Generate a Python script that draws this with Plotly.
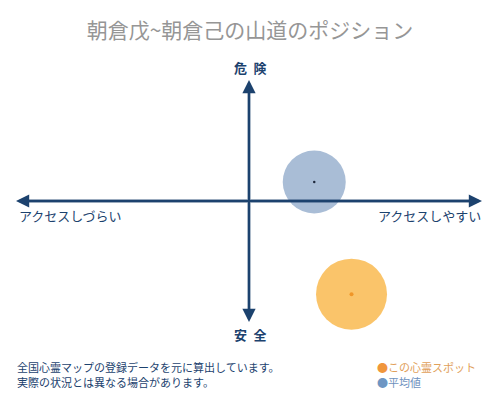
import plotly.graph_objects as go

# Data
series_names = ["この心霊スポット", "平均値"]
access_values = [0.44, 0.28]      # x: アクセスしづらい(-1) .. アクセスしやすい(+1)
danger_values = [-0.77, 0.157]    # y: 安全(-1) .. 危険(+1)
title_text = "朝倉戊~朝倉己の山道のポジション"
axis_labels = {"top": "危\u2002険", "bottom": "安\u2002全", "left": "アクセスしづらい", "right": "アクセスしやすい"}
footer_lines = ["全国心霊マップの登録データを元に算出しています。", "実際の状況とは異なる場合があります。"]

FONT = "Noto Sans CJK JP"
NAVY = "rgb(28,66,110)"
fill_colors = ["rgba(250,190,90,0.9)", "rgba(160,182,210,0.9)"]
dot_colors = ["rgb(240,150,40)", "rgb(30,40,60)"]
big_sizes = [71, 63]
dot_sizes = [4, 2.5]

fig = go.Figure()
for i in range(2):
    fig.add_trace(go.Scatter(
        x=[access_values[i]], y=[danger_values[i]], mode="markers", cliponaxis=False,
        marker=dict(size=big_sizes[i], color=fill_colors[i], line=dict(width=0)),
        name=series_names[i], showlegend=False, hoverinfo="skip"))
    fig.add_trace(go.Scatter(
        x=[access_values[i]], y=[danger_values[i]], mode="markers", cliponaxis=False,
        marker=dict(size=dot_sizes[i], color=dot_colors[i], line=dict(width=0)),
        showlegend=False, hoverinfo="skip"))

# axis lines through the origin
fig.add_shape(type="line", x0=-0.98, x1=0.98, y0=0, y1=0, xref="x", yref="y",
              line=dict(color=NAVY, width=2.4), layer="above")
fig.add_shape(type="line", x0=0, x1=0, y0=-0.97, y1=0.97, xref="x", yref="y",
              line=dict(color=NAVY, width=2.4), layer="above")

# arrows (from origin out to each end)
for (tx, ty) in [(1, 0), (-1, 0), (0, 1), (0, -1)]:
    fig.add_annotation(x=tx, y=ty, ax=0, ay=0, xref="x", yref="y", axref="x", ayref="y",
                       text="", showarrow=True, arrowhead=2, arrowsize=1.1,
                       arrowwidth=2.4, arrowcolor=NAVY, standoff=0, startstandoff=0)

pl, pr, pt, pb = 16, 18, 80, 78
pw, ph = 500 - pl - pr, 400 - pt - pb


def px(x):
    return (x - pl) / pw


def py(y):
    return (400 - y - pb) / ph


lab_font = dict(family=FONT, size=13, color=NAVY)
fig.add_annotation(x=px(250), y=py(68), xref="paper", yref="paper", text="<b>" + axis_labels["top"] + "</b>",
                   showarrow=False, xanchor="center", yanchor="middle",
                   font=dict(family=FONT, size=13, color=NAVY))
fig.add_annotation(x=px(250), y=py(334), xref="paper", yref="paper", text="<b>" + axis_labels["bottom"] + "</b>",
                   showarrow=False, xanchor="center", yanchor="middle",
                   font=dict(family=FONT, size=13, color=NAVY))
fig.add_annotation(x=px(17), y=py(215), xref="paper", yref="paper", text=axis_labels["left"],
                   showarrow=False, xanchor="left", yanchor="middle", font=lab_font)
fig.add_annotation(x=px(483), y=py(215), xref="paper", yref="paper", text=axis_labels["right"],
                   showarrow=False, xanchor="right", yanchor="middle", font=lab_font)

# footer
for k, line in enumerate(footer_lines):
    fig.add_annotation(x=px(15), y=py(367 + 15 * k), xref="paper", yref="paper", text=line,
                       showarrow=False, xanchor="left", yanchor="middle",
                       font=dict(family=FONT, size=11, color=NAVY))

# legend
legend_dot = ["rgb(240,150,60)", "rgb(110,150,195)"]
legend_txt = ["rgb(225,160,90)", "rgb(110,145,190)"]
for k in range(2):
    fig.add_annotation(x=px(375), y=py(367 + 15 * k), xref="paper", yref="paper",
                       text=f"<span style='color:{legend_dot[k]}'>●</span>{series_names[k]}",
                       showarrow=False, xanchor="left", yanchor="middle",
                       font=dict(family=FONT, size=11, color=legend_txt[k]))

fig.update_layout(
    width=500, height=400,
    margin=dict(l=pl, r=pr, t=pt, b=pb),
    paper_bgcolor="white", plot_bgcolor="white",
    title=dict(text=title_text, x=0.5, xanchor="center", y=1 - 31 / 400, yanchor="middle",
               font=dict(family=FONT, size=21, color="rgb(150,150,150)")),
    xaxis=dict(range=[-1, 1], visible=False, fixedrange=True),
    yaxis=dict(range=[-1, 1], visible=False, fixedrange=True),
)

fig.write_html("out.html", post_script="document.body.style.margin='0';",
               config={"displayModeBar": False})
